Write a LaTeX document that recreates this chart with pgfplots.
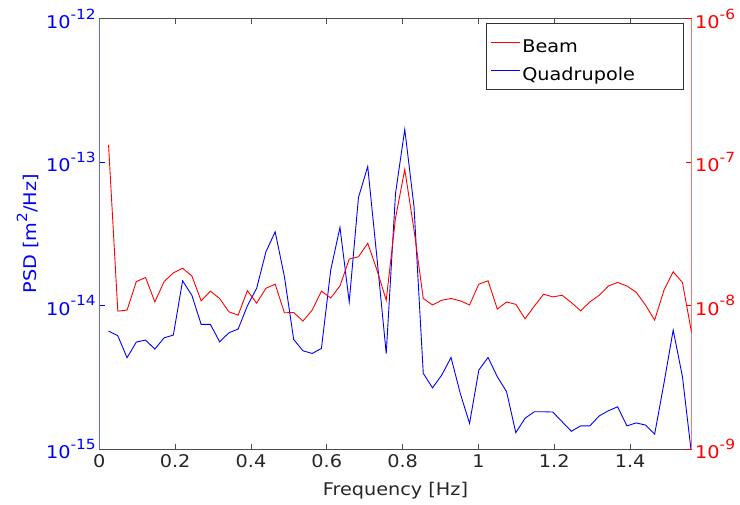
\documentclass[border=0pt]{standalone}
\usepackage{fontspec}
\setmainfont{DejaVu Sans}[FakeStretch=1.1]
\usepackage{pgfplots}
\usepackage{pgfplotstable}
\pgfplotsset{compat=1.18}
\newcommand{\sprs}[1]{\raisebox{9.5pt}{\fontsize{14}{15}\selectfont #1}}
\newcommand{\lstrut}{\rule[-10.5pt]{0pt}{33pt}}
\pgfplotstableread{
f beam quad
0.0244 1.32e-7 6.64e-15
0.0488 9.15e-9 6.16e-15
0.0732 9.30e-9 4.33e-15
0.0977 1.47e-8 5.57e-15
0.1221 1.57e-8 5.75e-15
0.1465 1.06e-8 4.97e-15
0.1709 1.47e-8 5.96e-15
0.1953 1.69e-8 6.23e-15
0.2197 1.82e-8 1.49e-14
0.2441 1.61e-8 1.18e-14
0.2686 1.08e-8 7.40e-15
0.2930 1.26e-8 7.40e-15
0.3174 1.12e-8 5.59e-15
0.3418 9.05e-9 6.46e-15
0.3662 8.58e-9 6.86e-15
0.3906 1.27e-8 9.97e-15
0.4150 1.04e-8 1.32e-14
0.4395 1.32e-8 2.37e-14
0.4639 1.41e-8 3.27e-14
0.4883 8.91e-9 1.59e-14
0.5127 8.94e-9 5.81e-15
0.5371 7.80e-9 4.84e-15
0.5615 9.30e-9 4.64e-15
0.5859 1.26e-8 5.03e-15
0.6104 1.13e-8 1.77e-14
0.6348 1.37e-8 3.51e-14
0.6592 2.11e-8 1.06e-14
0.6836 2.19e-8 5.68e-14
0.7080 2.72e-8 9.32e-14
0.7324 1.77e-8 2.14e-14
0.7568 1.09e-8 4.63e-15
0.7813 4.07e-8 6.06e-14
0.8057 8.91e-8 1.69e-13
0.8301 3.36e-8 4.89e-14
0.8545 1.12e-8 3.37e-15
0.8789 1.01e-8 2.67e-15
0.9033 1.09e-8 3.28e-15
0.9277 1.12e-8 4.35e-15
0.9521 1.08e-8 2.44e-15
0.9766 1.01e-8 1.51e-15
1.0010 1.41e-8 3.55e-15
1.0254 1.49e-8 4.35e-15
1.0498 9.45e-9 3.19e-15
1.0742 1.06e-8 2.51e-15
1.0986 1.02e-8 1.30e-15
1.1230 8.09e-9 1.64e-15
1.1475 9.92e-9 1.82e-15
1.1719 1.20e-8 1.82e-15
1.1963 1.15e-8 1.81e-15
1.2207 1.18e-8 1.55e-15
1.2451 1.05e-8 1.33e-15
1.2695 9.20e-9 1.45e-15
1.2939 1.06e-8 1.45e-15
1.3184 1.18e-8 1.70e-15
1.3428 1.37e-8 1.85e-15
1.3672 1.45e-8 1.97e-15
1.3916 1.37e-8 1.45e-15
1.4160 1.24e-8 1.52e-15
1.4404 1.01e-8 1.47e-15
1.4648 7.92e-9 1.27e-15
1.4893 1.28e-8 2.87e-15
1.5137 1.72e-8 6.75e-15
1.5381 1.45e-8 3.19e-15
1.5625 6.40e-9 9.00e-16
}\psddata

\pgfplotsset{
  every axis/.append style={font=\fontsize{17.5}{20}\selectfont},
  every axis y label/.style={at={(axis description cs:-0.1057,0.5)}, anchor=base, rotate=90},
  every axis x label/.style={at={(axis description cs:0.5,0)}, anchor=base, yshift=-46pt},
}

\begin{document}
\begin{tikzpicture}
\useasboundingbox (0,0) rectangle (740pt,505pt);
\begin{axis}[
  at={(99.3pt,56pt)}, anchor=south west, scale only axis,
  width=592.4pt, height=430.3pt,
  xmin=0, xmax=1.5625,
  ymode=log, ymin=1e-15, ymax=1e-12,
  axis y line*=left,
  xtick={0,0.2,0.4,0.6,0.8,1,1.2,1.4},
  xticklabel style={text=black!85, /pgf/number format/assume math mode=true},
  xticklabel shift=2pt,
  x axis line style={draw=black!70, line width=0.8pt},
  xtick style={draw=black!70, line width=0.8pt},
  ytick={1e-15,1e-14,1e-13,1e-12},
  yticklabels={10\sprs{-15},10\sprs{-14},10\sprs{-13},10\sprs{-12}},
  yticklabel style={text=blue},
  y axis line style={draw=blue!60, line width=1pt},
  ytick style={draw=blue, line width=0.8pt},
  yminorticks=false,
  major tick length=5.5pt,
  xlabel={Frequency [Hz]},
  xlabel style={text=black!85},
  ylabel={PSD [m\sprs{2}/Hz]},
  ylabel style={text=blue},
]
\addplot[blue, line width=0.9pt] table[x=f, y=quad] {\psddata};
\end{axis}
\begin{axis}[
  at={(99.3pt,56pt)}, anchor=south west, scale only axis,
  width=592.4pt, height=430.3pt,
  xmin=0, xmax=1.5625,
  ymode=log, ymin=1e-9, ymax=1e-6,
  axis y line*=right, axis x line=none,
  ytick={1e-9,1e-8,1e-7,1e-6},
  yticklabels={10\sprs{-9},10\sprs{-8},10\sprs{-7},10\sprs{-6}},
  yticklabel style={text=red},
  y axis line style={draw=red!55, line width=1pt},
  ytick style={draw=red, line width=0.8pt},
  yminorticks=false,
  major tick length=5.5pt,
  legend cell align=left,
  legend image code/.code={\draw[#1] (0pt,0pt) -- (29pt,0pt);},
  legend style={at={(0.986,0.9907)}, anchor=north east, draw=black!80,
    line width=0.8pt, fill=white, font=\fontsize{17.5}{20}\selectfont,
    inner xsep=4pt, inner ysep=5pt},
]
\addplot[red, line width=0.9pt] table[x=f, y=beam] {\psddata};
\addlegendentry{\lstrut Beam}
\addlegendimage{blue, line width=0.9pt}
\addlegendentry{\lstrut Quadrupole\hspace*{42pt}}
\end{axis}
\end{tikzpicture}
\end{document}
